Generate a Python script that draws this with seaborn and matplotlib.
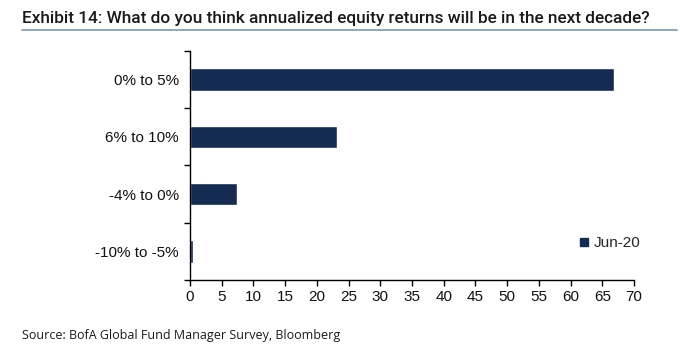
import matplotlib
matplotlib.use("Agg")
import matplotlib.pyplot as plt
import seaborn as sns
import pandas as pd
from matplotlib.ticker import FixedLocator
from matplotlib.lines import Line2D

categories = ["0% to 5%", "6% to 10%", "-4% to 0%", "-10% to -5%"]
values = [66.8, 23.2, 7.4, 0.5]
series_name = "Jun-20"
x_ticks = list(range(0, 75, 5))

title = "Exhibit 14: What do you think annualized equity returns will be in the next decade?"
source = "Source: BofA Global Fund Manager Survey, Bloomberg"

navy = "#142b52"

sns.set_theme(style="white")
plt.rcParams["font.family"] = ["Liberation Sans", "DejaVu Sans"]

df = pd.DataFrame({"cat": categories, "val": values})

fig = plt.figure(figsize=(6.8, 3.55), dpi=100)
ax = fig.add_axes([190/680, 1-280/355, 444/680, 229/355])
sns.barplot(data=df, y="cat", x="val", orient="h", color=navy, saturation=1,
            width=0.39, ax=ax)

ax.set_xlim(0, 70)
ax.set_ylim(3.5, -0.5)
ax.set_xticks(x_ticks)
ax.set_xticklabels([str(t) for t in x_ticks], fontsize=11, color="#111111")
ax.tick_params(axis="y", which="major", length=0, labelsize=11, labelcolor="#111111", pad=8)
ax.yaxis.set_minor_locator(FixedLocator([-0.5, 0.5, 1.5, 2.5, 3.5]))
ax.tick_params(axis="y", which="minor", length=4, width=1, color="black", left=True)
ax.tick_params(axis="x", which="major", length=4, width=1, color="black", bottom=True, pad=3)
ax.set_xlabel("")
ax.set_ylabel("")
for s in ["top", "right"]:
    ax.spines[s].set_visible(False)
for s in ["left", "bottom"]:
    ax.spines[s].set_color("black")
    ax.spines[s].set_linewidth(1)

handle = Line2D([], [], marker="s", linestyle="none", markersize=6,
                markerfacecolor=navy, markeredgecolor=navy)
ax.legend([handle], [series_name], loc="center left", bbox_to_anchor=(0.84, 0.16),
          frameon=False, fontsize=11, handletextpad=0.1, handlelength=1.0)

fig.text(22/680, 1-18/355, title, fontsize=12.4, fontweight="medium", color="#1a1a1a",
         family=["Roboto", "DejaVu Sans"], va="center", ha="left")
fig.add_artist(Line2D([22/680, 677/680], [1-30/355, 1-30/355], color="#8096b0",
                      linewidth=1.2, transform=fig.transFigure))
fig.text(22/680, 1-336/355, source, fontsize=9, color="#1a1a1a",
         family=["Open Sans", "DejaVu Sans"], va="center", ha="left")

fig.savefig("out.png", dpi=100)
